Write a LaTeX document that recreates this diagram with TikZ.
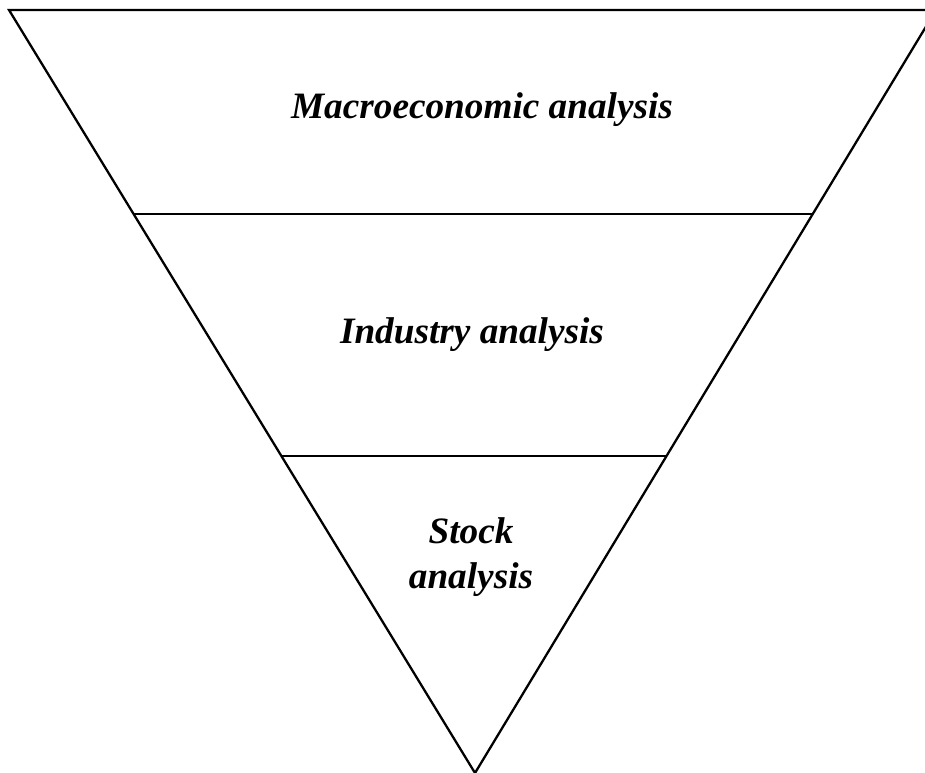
\documentclass[tikz,border=0pt]{standalone}
\usepackage{fontspec}
\setmainfont{Liberation Serif}

\tikzset{
  level/.style={font=\fontsize{21.2}{25.6}\selectfont\bfseries\itshape, align=center},
  rim/.style={line width=1.3pt},
  cut/.style={line width=0.75pt}
}

\begin{document}
\begin{tikzpicture}[x=0.02cm, y=-0.02cm]
\useasboundingbox (0,0) rectangle (925,773);
\clip (0,0) rectangle (925,773);

% outer funnel
\coordinate (tl) at (9,10);
\coordinate (tr) at (936,10);
\coordinate (tip) at (475,773);
\draw[rim, line join=miter] (tip) -- (tl) -- (tr) -- cycle;

% dividing lines
\coordinate (a1) at (133,214);
\coordinate (a2) at (812.5,214);
\coordinate (b1) at (281,456);
\coordinate (b2) at (666.5,456);
\draw[cut] (a1) -- (a2);
\draw[cut] (b1) -- (b2);

% labels
\node[level] (macro) at (482,110) {Macroeconomic analysis};
\node[level] (industry) at (472,335) {Industry analysis};
\node[level] (stock) at (471,557) {Stock\\analysis};
\end{tikzpicture}
\end{document}
